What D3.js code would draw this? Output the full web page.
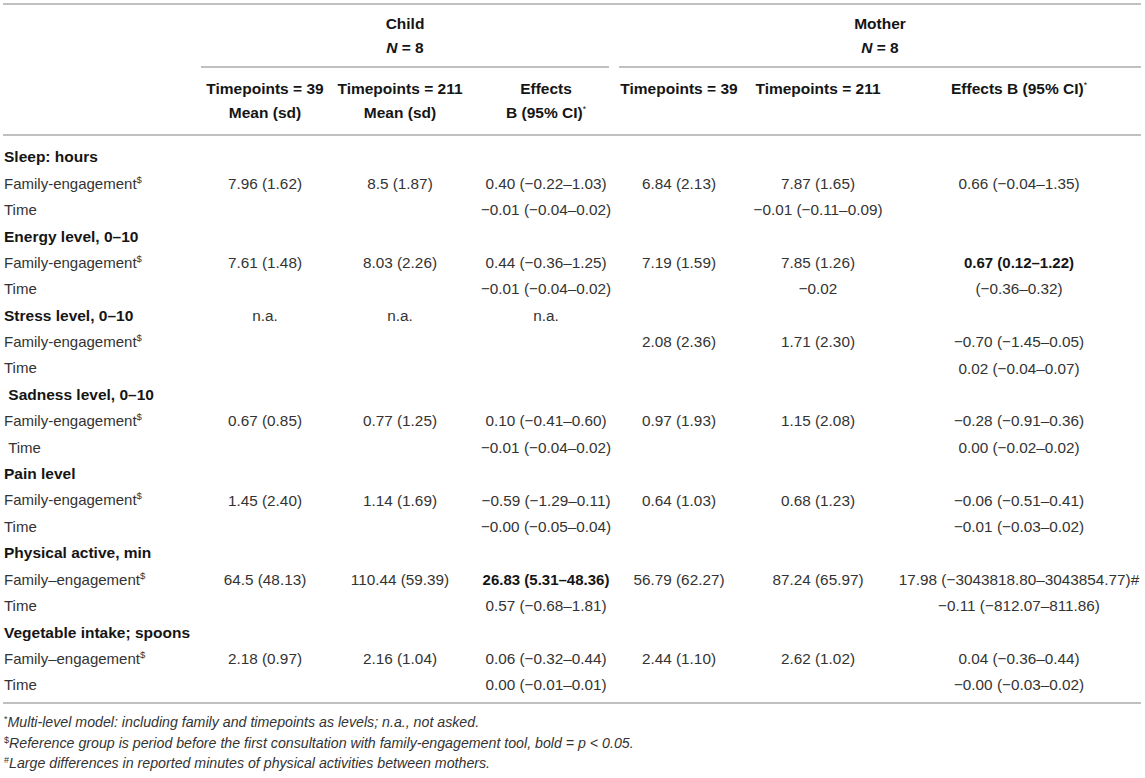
<!DOCTYPE html>
<html>
<head>
<meta charset="utf-8">
<script src="https://cdn.jsdelivr.net/npm/d3@7"></script>
<style>
  body { margin: 0; background: #fff; }
  svg text { font-family: "Liberation Sans", Arial, Helvetica, sans-serif; }
</style>
</head>
<body>
<div id="table-container"></div>
<script>
// row labels of the table (left column)
var rowLabels = [
  'Sleep: hours', 'Family-engagement', 'Time',
  'Energy level, 0–10', 'Family-engagement', 'Time',
  'Stress level, 0–10', 'Family-engagement', 'Time',
  '\u00a0Sadness level, 0–10', 'Family-engagement', '\u00a0Time',
  'Pain level', 'Family-engagement', 'Time',
  'Physical active, min', 'Family–engagement', 'Time',
  'Vegetable intake; spoons', 'Family–engagement', 'Time'
];
var headingRows = [0, 3, 6, 9, 12, 15, 18];
var dollarRows = [1, 4, 7, 10, 13, 16, 19];

// child columns
var childT39 = ['', '7.96 (1.62)', '', '', '7.61 (1.48)', '', 'n.a.', '', '', '', '0.67 (0.85)', '', '', '1.45 (2.40)', '', '', '64.5 (48.13)', '', '', '2.18 (0.97)', ''];
var childT211 = ['', '8.5 (1.87)', '', '', '8.03 (2.26)', '', 'n.a.', '', '', '', '0.77 (1.25)', '', '', '1.14 (1.69)', '', '', '110.44 (59.39)', '', '', '2.16 (1.04)', ''];
var childEffects = ['', '0.40 (−0.22–1.03)', '−0.01 (−0.04–0.02)', '', '0.44 (−0.36–1.25)', '−0.01 (−0.04–0.02)', 'n.a.', '', '', '', '0.10 (−0.41–0.60)', '−0.01 (−0.04–0.02)', '', '−0.59 (−1.29–0.11)', '−0.00 (−0.05–0.04)', '', '26.83 (5.31–48.36)', '0.57 (−0.68–1.81)', '', '0.06 (−0.32–0.44)', '0.00 (−0.01–0.01)'];

// mother columns
var motherT39 = ['', '6.84 (2.13)', '', '', '7.19 (1.59)', '', '', '2.08 (2.36)', '', '', '0.97 (1.93)', '', '', '0.64 (1.03)', '', '', '56.79 (62.27)', '', '', '2.44 (1.10)', ''];
var motherT211 = ['', '7.87 (1.65)', '−0.01 (−0.11–0.09)', '', '7.85 (1.26)', '−0.02', '', '1.71 (2.30)', '', '', '1.15 (2.08)', '', '', '0.68 (1.23)', '', '', '87.24 (65.97)', '', '', '2.62 (1.02)', ''];
var motherEffects = ['', '0.66 (−0.04–1.35)', '', '', '0.67 (0.12–1.22)', '(−0.36–0.32)', '', '−0.70 (−1.45–0.05)', '0.02 (−0.04–0.07)', '', '−0.28 (−0.91–0.36)', '0.00 (−0.02–0.02)', '', '−0.06 (−0.51–0.41)', '−0.01 (−0.03–0.02)', '', '17.98 (−3043818.80–3043854.77)#', '−0.11 (−812.07–811.86)', '', '0.04 (−0.36–0.44)', '−0.00 (−0.03–0.02)'];

// bold = p < 0.05  ([column, row])
var boldCells = [['childEffects', 16], ['motherEffects', 4]];

// column headers
var colKeys = ['childT39', 'childT211', 'childEffects', 'motherT39', 'motherT211', 'motherEffects'];
var colHead1 = ['Timepoints = 39', 'Timepoints = 211', 'Effects', 'Timepoints = 39', 'Timepoints = 211', 'Effects B (95% CI)'];
var colHead2 = ['Mean (sd)', 'Mean (sd)', 'B (95% CI)', '', '', ''];
var groupNames = ['Child', 'Mother'];
var groupN = ['8', '8'];

var footnotes = [
  ['*', 'Multi-level model: including family and timepoints as levels; n.a., not asked.'],
  ['$', 'Reference group is period before the first consultation with family-engagement tool, bold = p < 0.05.'],
  ['#', 'Large differences in reported minutes of physical activities between mothers.']
];

var columns = {
  childT39: childT39, childT211: childT211, childEffects: childEffects,
  motherT39: motherT39, motherT211: motherT211, motherEffects: motherEffects
};

// size
var width = 1145;
var height = 778;
var textCol = '#333';
var boldCol = '#151515';
var lineCol = '#ababab';

var svg = d3.select('#table-container').append('svg')
  .attr('width', width)
  .attr('height', height);

// scales: rows and column centres
var y = d3.scalePoint()
  .domain(d3.range(rowLabels.length))
  .range([157, 685]);

var x = d3.scaleOrdinal()
  .domain(colKeys)
  .range([265, 400, 546, 679, 818, 1019]);

var groupX = d3.scaleOrdinal()
  .domain(groupNames)
  .range([405, 880]);

// horizontal rules
var rules = [
  { x1: 3, x2: 1141, y: 4 },
  { x1: 201, x2: 609, y: 67 },
  { x1: 619, x2: 1141, y: 67 },
  { x1: 3, x2: 1141, y: 135 },
  { x1: 3, x2: 1141, y: 703 }
];
svg.append('g')
  .selectAll('line')
  .data(rules)
  .enter().append('line')
  .attr('x1', d => d.x1)
  .attr('x2', d => d.x2)
  .attr('y1', d => d.y)
  .attr('y2', d => d.y)
  .attr('stroke', lineCol)
  .attr('stroke-width', 1.6);

// group headers (Child / Mother, N = 8)
var groups = svg.append('g').selectAll('g')
  .data(groupNames)
  .enter().append('g');

groups.append('text')
  .attr('x', d => groupX(d))
  .attr('y', 24)
  .attr('dy', '0.35em')
  .attr('text-anchor', 'middle')
  .attr('font-size', 15.5)
  .attr('font-weight', 'bold')
  .attr('fill', boldCol)
  .text(d => d);

var nText = groups.append('text')
  .attr('x', d => groupX(d))
  .attr('y', 48)
  .attr('dy', '0.35em')
  .attr('text-anchor', 'middle')
  .attr('font-size', 15.5)
  .attr('font-weight', 'bold')
  .attr('fill', boldCol);
nText.append('tspan').attr('font-style', 'italic').text('N');
nText.append('tspan').text((d, i) => ' = ' + groupN[i]);

// column headers
function addHeader(yy, labels) {
  var t = svg.append('g').selectAll('text')
    .data(colKeys)
    .enter().append('text')
    .attr('x', d => x(d))
    .attr('y', yy)
    .attr('dy', '0.35em')
    .attr('text-anchor', 'middle')
    .attr('font-size', 15.5)
    .attr('font-weight', 'bold')
    .attr('fill', boldCol);
  t.append('tspan').text((d, i) => labels[i]);
  t.filter((d, i) => labels[i].indexOf('95% CI') >= 0)
    .append('tspan')
    .attr('font-size', 8.5)
    .attr('font-weight', 'normal')
    .attr('dy', -6)
    .text('*');
}
addHeader(89, colHead1);
addHeader(113, colHead2);

// row labels
var labels = svg.append('g').selectAll('text')
  .data(rowLabels)
  .enter().append('text')
  .attr('x', 4)
  .attr('y', (d, i) => y(i))
  .attr('dy', '0.35em')
  .attr('font-size', (d, i) => headingRows.indexOf(i) >= 0 ? 15.5 : 15)
  .attr('font-weight', (d, i) => headingRows.indexOf(i) >= 0 ? 'bold' : 'normal')
  .attr('fill', (d, i) => headingRows.indexOf(i) >= 0 ? boldCol : textCol);
labels.append('tspan').text(d => d);
labels.filter((d, i) => dollarRows.indexOf(i) >= 0)
  .append('tspan')
  .attr('font-size', 9.5)
  .attr('dy', -6)
  .text('$');

// value cells
var cells = [];
colKeys.forEach(function (k) {
  columns[k].forEach(function (v, i) {
    if (v !== '') cells.push({ col: k, row: i, value: v });
  });
});

function isBold(d) {
  return boldCells.some(b => b[0] === d.col && b[1] === d.row);
}

svg.append('g').selectAll('text')
  .data(cells)
  .enter().append('text')
  .attr('x', d => x(d.col))
  .attr('y', d => y(d.row))
  .attr('dy', '0.35em')
  .attr('text-anchor', 'middle')
  .attr('font-size', d => isBold(d) ? 15 : 15.3)
  .attr('font-weight', d => isBold(d) ? 'bold' : 'normal')
  .attr('fill', d => isBold(d) ? boldCol : textCol)
  .text(d => d.value);

// footnotes
var fy = d3.scalePoint().domain(d3.range(footnotes.length)).range([727, 768]);
var fn = svg.append('g').selectAll('text')
  .data(footnotes)
  .enter().append('text')
  .attr('x', 4)
  .attr('y', (d, i) => fy(i))
  .attr('dy', '0.35em')
  .attr('font-size', 14.2)
  .attr('font-style', 'italic')
  .attr('fill', textCol);
fn.append('tspan')
  .attr('font-size', 9)
  .attr('font-style', 'normal')
  .attr('dy', -5)
  .text(d => d[0]);
fn.append('tspan')
  .attr('dy', 5)
  .text(d => d[1]);
</script>
</body>
</html>
